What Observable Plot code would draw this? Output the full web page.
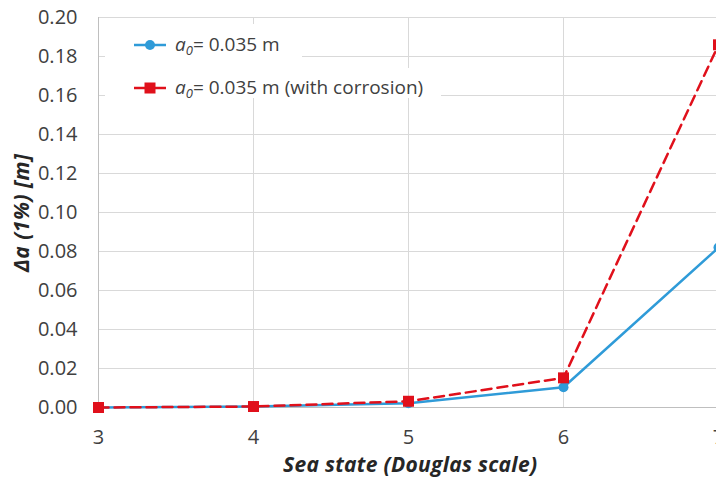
<!DOCTYPE html>
<html>
<head>
<meta charset="utf-8">
<script src="https://cdn.jsdelivr.net/npm/d3@7"></script>
<script src="https://cdn.jsdelivr.net/npm/@observablehq/plot@0.6"></script>
<style>
  html, body { margin: 0; padding: 0; background: #fff; overflow: hidden; }
  #chart svg { display: block; overflow: hidden; }
</style>
</head>
<body>
<div id="chart"></div>
<script>
// Sea state (Douglas scale)
const seaStates = [3, 4, 5, 6, 7];
// Δa (1%) in metres, initial crack a0 = 0.035 m
const deltaA = [0.000, 0.0005, 0.0022, 0.0104, 0.082];
// Δa (1%) in metres, same crack with corrosion
const deltaACorroded = [0.000, 0.0005, 0.0032, 0.0152, 0.186];
const yTicks = [0, 0.02, 0.04, 0.06, 0.08, 0.10, 0.12, 0.14, 0.16, 0.18, 0.20];
const xTicks = [3, 4, 5, 6, 7];
const seriesLabels = ["= 0.035 m", "= 0.035 m (with corrosion)"];

const BLUE = "#2F9BD8";
const RED = "#E0101B";
const FONT = "'Open Sans', sans-serif";

const plain = seaStates.map((s, i) => ({s, v: deltaA[i]}));
const corroded = seaStates.map((s, i) => ({s, v: deltaACorroded[i]}));

const chart = Plot.plot({
  width: 716,
  height: 480,
  marginLeft: 98,
  marginRight: -2,
  marginTop: 17,
  marginBottom: 73,
  style: {fontFamily: FONT, fontSize: "20px", color: "#404040", background: "#fff"},
  x: {domain: [3, 7], label: null},
  y: {domain: [0, 0.2], label: null},
  marks: [
    Plot.gridY(yTicks, {stroke: "#D9D9D9", strokeOpacity: 1, strokeWidth: 1}),
    Plot.gridX(xTicks, {stroke: "#D9D9D9", strokeOpacity: 1, strokeWidth: 1}),
    Plot.ruleX([3], {stroke: "#BFBFBF"}),
    Plot.ruleY([0], {stroke: "#BFBFBF"}),
    Plot.axisY(yTicks, {tickSize: 0, tickPadding: 21, tickFormat: d3.format(".2f"), fill: "#404040"}),
    Plot.axisX(xTicks, {tickSize: 0, tickPadding: 22, tickFormat: d => String(d), fill: "#404040"}),
    Plot.line(plain, {x: "s", y: "v", stroke: BLUE, strokeWidth: 2.5}),
    Plot.dot(plain, {x: "s", y: "v", r: 5, fill: BLUE, stroke: "none"}),
    Plot.line(corroded, {x: "s", y: "v", stroke: RED, strokeWidth: 2.5, strokeDasharray: "10,6"}),
    Plot.dot(corroded, {x: "s", y: "v", symbol: "square", r: 6.2, fill: RED, stroke: "none"})
  ]
});

document.getElementById("chart").appendChild(chart);

const svg = d3.select(chart);

// Axis titles
svg.append("text")
  .attr("x", 410).attr("y", 472)
  .attr("text-anchor", "middle")
  .attr("font-family", FONT).attr("font-size", 21)
  .attr("font-weight", "bold").attr("font-style", "italic")
  .attr("fill", "#262626")
  .attr("textLength", 254).attr("lengthAdjust", "spacing")
  .text("Sea state (Douglas scale)");

svg.append("text")
  .attr("transform", "translate(29,213) rotate(-90)")
  .attr("text-anchor", "middle")
  .attr("font-family", FONT).attr("font-size", 21)
  .attr("font-weight", "bold").attr("font-style", "italic")
  .attr("fill", "#262626")
  .attr("textLength", 118).attr("lengthAdjust", "spacing")
  .text("Δa (1%) [m]");

// Legend inside the plot area
const legend = svg.append("g").attr("text-anchor", "start");
legend.append("rect").attr("x", 105).attr("y", 24).attr("width", 197).attr("height", 44).attr("fill", "#fff");
legend.append("rect").attr("x", 105).attr("y", 68).attr("width", 336).attr("height", 30).attr("fill", "#fff");

const entries = [
  {y: 45, color: BLUE, label: seriesLabels[0], shape: "circle"},
  {y: 88, color: RED, label: seriesLabels[1], shape: "square"}
];
entries.forEach(e => {
  legend.append("line")
    .attr("x1", 134).attr("x2", 166).attr("y1", e.y).attr("y2", e.y)
    .attr("stroke", e.color).attr("stroke-width", 2.5);
  if (e.shape === "circle") {
    legend.append("circle").attr("cx", 150).attr("cy", e.y).attr("r", 5).attr("fill", e.color);
  } else {
    legend.append("rect").attr("x", 144.5).attr("y", e.y - 5.5).attr("width", 11).attr("height", 11).attr("fill", e.color);
  }
  const t = legend.append("text")
    .attr("x", 175).attr("y", e.y + 6)
    .attr("text-anchor", "start")
    .attr("font-family", FONT).attr("font-size", 19)
    .attr("fill", "#404040");
  t.append("tspan").attr("font-style", "italic").text("a");
  t.append("tspan").attr("font-style", "italic").attr("font-size", 13).attr("dy", 4).text("0");
  t.append("tspan").attr("dy", -4).text(e.label);
});
</script>
</body>
</html>
